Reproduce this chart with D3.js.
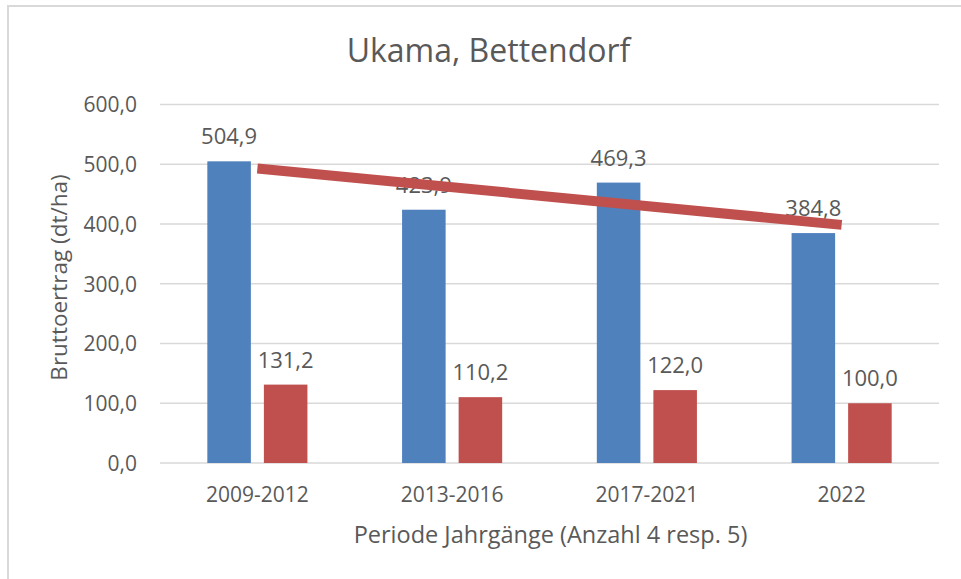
<!DOCTYPE html>
<html>
<head>
<meta charset="utf-8">
<script src="https://cdn.jsdelivr.net/npm/d3@7"></script>
<style>
  html, body { margin: 0; padding: 0; background: #fff; }
  svg { display: block; font-family: "Open Sans", sans-serif; }
</style>
</head>
<body>
<div id="chart"></div>
<script>
// --- Data ---
const categories = ['2009-2012', '2013-2016', '2017-2021', '2022'];
const brutto = [504.9, 423.9, 469.3, 384.8];   // blue
const second = [131.2, 110.2, 122.0, 100.0];   // red
const trendline = [493.0, 398.5];              // linear trend, first & last category
const yTicks = [0, 100, 200, 300, 400, 500, 600];

const seriesColors = ['#4F81BD', '#C0504D'];
const textColor = '#595959';

// --- Layout ---
const width = 961, height = 579;
const plot = { left: 160, right: 939, top: 104.5, bottom: 463 };

const svg = d3.select('#chart').append('svg')
    .attr('width', width)
    .attr('height', height);

// chart border (cropped at right / bottom)
svg.append('rect')
    .attr('x', 8).attr('y', 6)
    .attr('width', width + 20).attr('height', height + 20)
    .attr('fill', 'none')
    .attr('stroke', '#d9d9d9')
    .attr('stroke-width', 2);

const x = d3.scaleBand()
    .domain(categories)
    .range([plot.left, plot.right])
    .paddingInner(0.486)
    .paddingOuter(0.243);

const xInner = d3.scaleBand()
    .domain([0, 1])
    .range([0, x.bandwidth()])
    .paddingInner(0.23);

const y = d3.scaleLinear()
    .domain([0, 600])
    .range([plot.bottom, plot.top]);

// gridlines
svg.append('g')
    .selectAll('line')
    .data(yTicks)
    .join('line')
    .attr('x1', plot.left).attr('x2', plot.right)
    .attr('y1', d => y(d)).attr('y2', d => y(d))
    .attr('stroke', '#d9d9d9')
    .attr('stroke-width', 1.3);

// y axis labels
const yAxis = svg.append('g')
    .attr('transform', `translate(${plot.left - 23},0)`)
    .call(d3.axisLeft(y).tickValues(yTicks).tickSize(0).tickPadding(0)
        .tickFormat(d => d3.format('.1f')(d).replace('.', ',')));
yAxis.select('.domain').remove();
yAxis.selectAll('text')
    .attr('fill', textColor)
    .style('font-size', '21px')
    .style('font-family', '"Open Sans", sans-serif')
    .attr('dy', '0.35em');

// x axis labels
const xAxis = svg.append('g')
    .attr('transform', `translate(0,${plot.bottom})`)
    .call(d3.axisBottom(x).tickSize(0).tickPadding(0));
xAxis.select('.domain').remove();
xAxis.selectAll('text')
    .attr('fill', textColor)
    .style('font-size', '21px')
    .style('font-family', '"Open Sans", sans-serif')
    .attr('y', 39)
    .attr('dy', 0);

// bars
const rows = categories.map((c, i) => ({ cat: c, vals: [brutto[i], second[i]] }));

const groups = svg.append('g')
    .selectAll('g')
    .data(rows)
    .join('g')
    .attr('transform', d => `translate(${x(d.cat)},0)`);

groups.selectAll('rect')
    .data(d => d.vals.map((v, s) => ({ v, s })))
    .join('rect')
    .attr('x', d => xInner(d.s))
    .attr('width', xInner.bandwidth())
    .attr('y', d => y(d.v))
    .attr('height', d => y(0) - y(d.v))
    .attr('fill', d => seriesColors[d.s]);

// data labels
groups.selectAll('text')
    .data(d => d.vals.map((v, s) => ({ v, s })))
    .join('text')
    .attr('x', d => xInner(d.s) + xInner.bandwidth() / 2)
    .attr('y', d => y(d.v) - 17)
    .attr('text-anchor', 'middle')
    .attr('fill', textColor)
    .style('font-size', '22px')
    .text(d => d3.format('.1f')(d.v).replace('.', ','));

// trend line over first series
const trendPts = [
    [x(categories[0]) + x.bandwidth() / 2, y(trendline[0])],
    [x(categories[categories.length - 1]) + x.bandwidth() / 2, y(trendline[1])]
];
svg.append('path')
    .attr('d', d3.line()(trendPts))
    .attr('stroke', '#C0504D')
    .attr('stroke-width', 10)
    .attr('fill', 'none');

// title
svg.append('text')
    .attr('x', 488.5).attr('y', 62)
    .attr('text-anchor', 'middle')
    .attr('fill', textColor)
    .style('font-size', '32px')
    .text('Ukama, Bettendorf');

// axis titles
svg.append('text')
    .attr('x', 550.5).attr('y', 543)
    .attr('text-anchor', 'middle')
    .attr('fill', textColor)
    .style('font-size', '23.5px')
    .text('Periode Jahrgänge (Anzahl 4 resp. 5)');

svg.append('text')
    .attr('transform', 'translate(67,277.5) rotate(-90)')
    .attr('text-anchor', 'middle')
    .attr('fill', textColor)
    .style('font-size', '22.5px')
    .text('Bruttoertrag (dt/ha)');
</script>
</body>
</html>
